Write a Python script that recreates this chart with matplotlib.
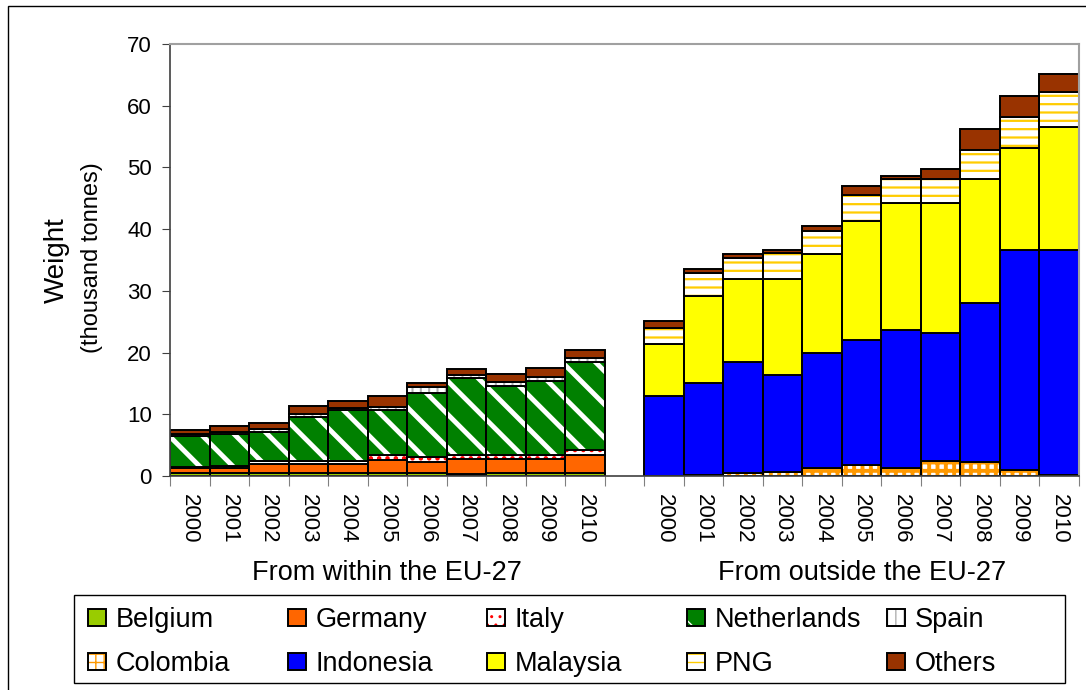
import numpy as np
import matplotlib
matplotlib.use("Agg")
import matplotlib.pyplot as plt
from matplotlib.patches import Patch, Rectangle

plt.rcParams["font.family"] = ["Liberation Sans", "DejaVu Sans"]

years = ["2000", "2001", "2002", "2003", "2004", "2005",
         "2006", "2007", "2008", "2009", "2010"]
groups = ["From within the EU-27", "From outside the EU-27"]

# imports from within the EU-27 (thousand tonnes)
belgium = [0.5, 0.5, 0.5, 0.5, 0.5, 0.5, 0.5, 0.3, 0.5, 0.5, 0.5]
germany = [0.75, 0.75, 1.45, 1.5, 1.5, 2.1, 1.7, 2.4, 2.2, 2.2, 2.9]
italy = [0.25, 0.3, 0.45, 0.4, 0.4, 0.8, 0.8, 0.7, 0.7, 0.7, 0.8]
netherlands = [5.0, 5.3, 4.7, 7.1, 8.3, 7.3, 10.5, 12.4, 11.2, 12.0, 14.3]
spain = [0.3, 0.3, 0.5, 0.6, 0.3, 0.4, 1.0, 0.6, 0.7, 0.6, 0.6]
others_eu = [0.7, 0.9, 1.0, 1.3, 1.2, 1.9, 0.6, 0.9, 1.2, 1.5, 1.3]

# imports from outside the EU-27
colombia = [0.0, 0.15, 0.45, 0.7, 1.25, 1.8, 1.25, 2.45, 2.2, 1.0, 0.1]
indonesia = [12.9, 14.9, 17.95, 15.7, 18.75, 20.3, 22.45, 20.75, 25.8, 35.6, 36.5]
malaysia = [8.5, 14.15, 13.5, 15.5, 15.9, 19.2, 20.5, 21.0, 20.1, 16.5, 19.9]
png = [2.6, 3.7, 3.5, 4.3, 3.8, 4.3, 3.9, 3.9, 4.7, 5.0, 5.8]
others_ext = [1.1, 0.7, 0.6, 0.4, 0.8, 1.4, 0.5, 1.7, 3.4, 3.4, 2.8]

n = len(years)
nslot = 2 * n + 1          # one empty slot between the two groups
x_eu = np.arange(n)
x_ext = np.arange(n) + n + 1

# name, slots, values, face, hatch, hatch colour, hatch lw
series = [
    ("Belgium", x_eu, belgium, "#99CC00", None, None, 0),
    ("Germany", x_eu, germany, "#FF6600", None, None, 0),
    ("Italy", x_eu, italy, "white", "..", "#FF0000", 2.0),
    ("Netherlands", x_eu, netherlands, "#008000", "\\", "white", 3.5),
    ("Spain", x_eu, spain, "white", "||", "#B0B0B0", 1.5),
    ("Colombia", x_ext, colombia, "white", "++", "#FF9900", 2.8),
    ("Indonesia", x_ext, indonesia, "#0000FF", None, None, 0),
    ("Malaysia", x_ext, malaysia, "#FFFF00", None, None, 0),
    ("PNG", x_ext, png, "white", "--", "#FFCC00", 1.6),
    ("Others", np.r_[x_eu, x_ext], others_eu + others_ext, "#993300", None, None, 0),
]


def styled_bar(ax, x, h, b, face, hatch, hc, hlw):
    with plt.rc_context({"hatch.linewidth": hlw if hlw else 1.0}):
        bars = ax.bar(x, h, bottom=b, width=1.0, align="edge", color=face,
                      edgecolor=hc if hc else face, hatch=hatch, linewidth=0)
    for p in bars:
        if hatch and hasattr(p, "set_hatch_linewidth"):
            p.set_hatch_linewidth(hlw)
    ax.bar(x, h, bottom=b, width=1.0, align="edge", fill=False,
           edgecolor="black", linewidth=1.4)


def legend_handle(face, hatch, hc, hlw):
    with plt.rc_context({"hatch.linewidth": hlw if hlw else 1.0}):
        base = Patch(facecolor=face, edgecolor=hc if hc else face, hatch=hatch, linewidth=0)
    if hatch and hasattr(base, "set_hatch_linewidth"):
        base.set_hatch_linewidth(hlw)
    return (base, Patch(fill=False, edgecolor="black", linewidth=1.4))


W, H = 1086, 690
fig = plt.figure(figsize=(W / 100, H / 100), dpi=100)
ax = fig.add_axes([170 / W, 1 - 476 / H, (1079 - 170) / W, (476 - 44) / H])

bottom = np.zeros(nslot)
handles = {}
for name, x, vals, face, hatch, hc, hlw in series:
    vals = np.asarray(vals, dtype=float)
    m = vals > 0
    styled_bar(ax, x[m], vals[m], bottom[x[m]], face, hatch, hc, hlw)
    bottom[x] += vals
    handles[name] = legend_handle(face, hatch, hc, hlw)

ax.set_xlim(0, nslot)
ax.set_ylim(0, 70)
ax.set_yticks(range(0, 71, 10))
ax.tick_params(axis="y", length=6, color="#404040", labelsize=16, pad=7)

# boundary ticks, labels centred under each bar
ax.set_xticks(np.arange(nslot + 1))
ax.tick_params(axis="x", which="major", length=7, color="#808080", labelbottom=False)
centers = np.r_[x_eu, x_ext] + 0.5
ax.set_xticks(centers, years + years, minor=True)
ax.tick_params(axis="x", which="minor", length=0, labelsize=16, labelrotation=-90, pad=13)

for s in ("left", "bottom"):
    ax.spines[s].set_color("#404040")
    ax.spines[s].set_linewidth(1.2)
for s in ("top", "right"):
    ax.spines[s].set_color("#A0A0A0")
    ax.spines[s].set_linewidth(1.5)

tr = ax.get_xaxis_transform()
ax.text(n / 2, -0.225, groups[0], transform=tr, ha="center", va="center", fontsize=19.5)
ax.text(n + 1 + n / 2, -0.225, groups[1], transform=tr, ha="center", va="center", fontsize=19.5)

fig.text(57 / W, 1 - 260 / H, "Weight", rotation=90, ha="center", va="center", fontsize=20)
fig.text(92 / W, 1 - 258 / H, "(thousand tonnes)", rotation=90, ha="center", va="center", fontsize=17)

# legend: 5 columns x 2 rows, one small legend per column
cols = [("Belgium", "Colombia"), ("Germany", "Indonesia"), ("Italy", "Malaysia"),
        ("Netherlands", "PNG"), ("Spain", "Others")]
col_x = [88, 288, 487, 687, 887]
for (a, b), cx in zip(cols, col_x):
    fig.legend([handles[a], handles[b]], [a, b], loc="upper left",
               bbox_to_anchor=(cx / W, 1 - 607 / H), frameon=False,
               fontsize=19.5, borderpad=0, borderaxespad=0,
               handlelength=0.68, handleheight=0.62, handletextpad=0.33,
               labelspacing=0.66)
fig.add_artist(Rectangle((74 / W, 1 - 683 / H), (1065 - 74) / W, 88 / H,
                         transform=fig.transFigure, fill=False, edgecolor="black", linewidth=1))
fig.add_artist(Rectangle((8 / W, -0.05), 1.1, 1.05 - 6 / H,
                         transform=fig.transFigure, fill=False, edgecolor="black", linewidth=1))

fig.savefig("out.png", dpi=100)
